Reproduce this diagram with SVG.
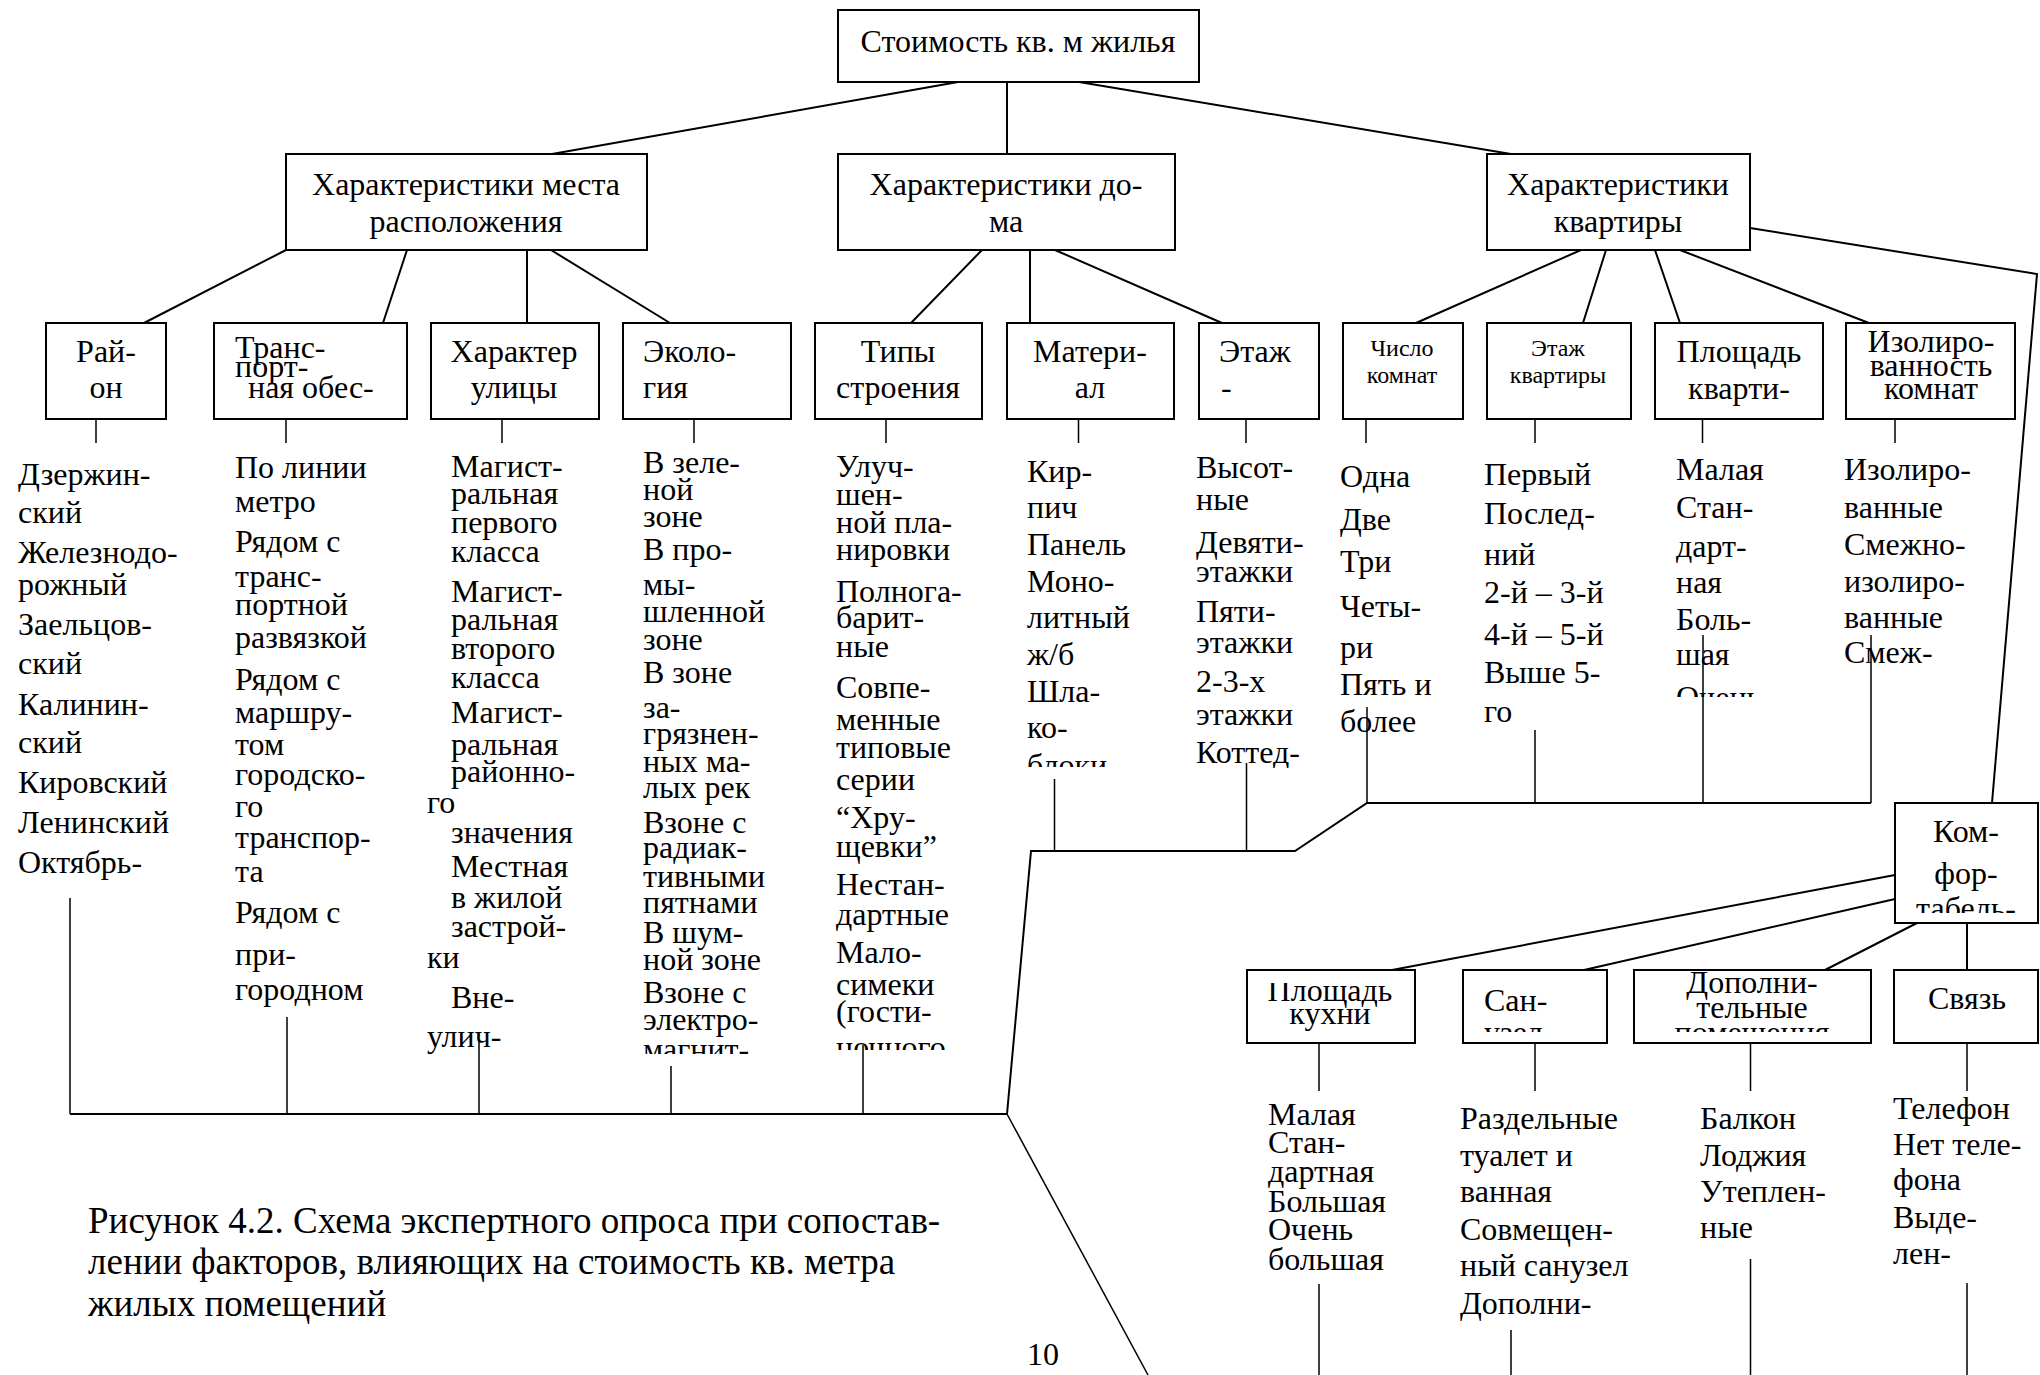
<svg xmlns="http://www.w3.org/2000/svg" width="2040" height="1375" viewBox="0 0 2040 1375">
<style>
  .box { fill: #fff; stroke: #000; stroke-width: 2; }
  .t { font-family: "Liberation Serif", "Times New Roman", "DejaVu Serif", serif; font-size: 32px; fill: #000; }
  .s { font-size: 24px; }
  .cap { font-size: 37px; }
  .m { text-anchor: middle; }
  .ln { stroke: #000; stroke-width: 2; fill: none; }
  .th { stroke: #000; stroke-width: 1.5; fill: none; }
</style>
<defs>
  <clipPath id="cl-transport"><rect x="214" y="334" width="193" height="85"/></clipPath>
  <clipPath id="cl-eco"><rect x="600" y="440" width="200" height="614"/></clipPath>
  <clipPath id="cl-types"><rect x="800" y="440" width="200" height="610"/></clipPath>
  <clipPath id="cl-mat"><rect x="1000" y="440" width="180" height="327"/></clipPath>
  <clipPath id="cl-floor"><rect x="1180" y="440" width="150" height="328"/></clipPath>
  <clipPath id="cl-flfloor"><rect x="1470" y="440" width="170" height="305"/></clipPath>
  <clipPath id="cl-flarea"><rect x="1660" y="440" width="170" height="257"/></clipPath>
  <clipPath id="cl-comfort"><rect x="1895" y="803" width="143" height="110"/></clipPath>
  <clipPath id="cl-kitchen"><rect x="1247" y="983" width="168" height="60"/></clipPath>
  <clipPath id="cl-bath"><rect x="1463" y="970" width="144" height="62"/></clipPath>
  <clipPath id="cl-extra"><rect x="1634" y="970" width="237" height="62"/></clipPath>
</defs>

<!-- connectors -->
<g id="connectors">
  <path class="ln" d="M958,82 L552,154 M1007,82 L1007,154 M1079,82 L1511,154"/>
  <path class="ln" d="M286,250 L144,323 M407,250 L383,323 M527,250 L527,323 M551,250 L670,323"/>
  <path class="ln" d="M982,250 L911,323 M1030,250 L1030,323 M1055,250 L1222,323"/>
  <path class="ln" d="M1581,250 L1416,323 M1606,250 L1583,323 M1655,250 L1680,323 M1680,250 L1869,323"/>
  <path class="ln" d="M1750,228 L2037,274 L1992,803"/>
  <!-- stubs under factor boxes -->
  <path class="th" d="M96,419 V443 M286,419 V443 M502,419 V443 M694,419 V443 M886,419 V443 M1078.5,419 V443 M1246,419 V443 M1366,419 V443 M1535,419 V443 M1702.5,419 V443 M1895,419 V443"/>
  <!-- left bus -->
  <path class="th" d="M70,898 V1114 M287,1017 V1114 M479,1040 V1114 M671,1066 V1114 M863,1045 V1114"/>
  <path class="ln" d="M70,1114 L1007,1114 L1031,851 L1295,851 L1367,803 L1871,803"/>
  <path class="th" d="M1054.5,779 V851 M1246.5,763 V851 M1367,707 V803 M1535,730 V803 M1703,635 V803 M1871,635 V803"/>
  <path class="th" d="M1007,1114 L1148,1375"/>
  <!-- comfort branch -->
  <path class="ln" d="M1895,875 L1392,970 M1895,899 L1584,970 M1917,923 L1825,970 M1967,923 L1967,970"/>
  <path class="th" d="M1319,1043 V1091 M1535,1043 V1091 M1750.5,1043 V1091 M1967,1043 V1091"/>
  <path class="th" d="M1319,1284 V1375 M1511,1330 V1375 M1750.5,1259 V1375 M1967,1283 V1375"/>
</g>

<!-- root -->
<g id="n-root">
  <rect class="box" x="838" y="10" width="361" height="72"/>
  <text class="t m" x="1018" y="52">Стоимость кв. м жилья</text>
</g>

<!-- second level -->
<g id="n-place">
  <rect class="box" x="286" y="154" width="361" height="96"/>
  <text class="t m" x="466" y="195">Характеристики места</text>
  <text class="t m" x="466" y="232">расположения</text>
</g>
<g id="n-house">
  <rect class="box" x="838" y="154" width="337" height="96"/>
  <text class="t m" x="1006" y="195">Характеристики до-</text>
  <text class="t m" x="1006" y="232">ма</text>
</g>
<g id="n-flat">
  <rect class="box" x="1487" y="154" width="263" height="96"/>
  <text class="t m" x="1618" y="195">Характеристики</text>
  <text class="t m" x="1618" y="232">квартиры</text>
</g>

<!-- factor boxes -->
<g id="n-district">
  <rect class="box" x="46" y="323" width="120" height="96"/>
  <text class="t m" x="106" y="362">Рай-</text>
  <text class="t m" x="106" y="398">он</text>
</g>
<g id="n-transport">
  <rect class="box" x="214" y="323" width="193" height="96"/>
  <g clip-path="url(#cl-transport)">
    <text class="t" x="235" y="358">Транс-</text>
    <text class="t" x="235" y="377">порт-</text>
    <text class="t" x="248" y="398">ная обес-</text>
  </g>
</g>
<g id="n-street">
  <rect class="box" x="431" y="323" width="168" height="96"/>
  <text class="t m" x="514" y="362">Характер</text>
  <text class="t m" x="514" y="398">улицы</text>
</g>
<g id="n-ecology">
  <rect class="box" x="623" y="323" width="168" height="96"/>
  <text class="t" x="643" y="362">Эколо-</text>
  <text class="t" x="643" y="398">гия</text>
</g>
<g id="n-types">
  <rect class="box" x="815" y="323" width="167" height="96"/>
  <text class="t m" x="898" y="362">Типы</text>
  <text class="t m" x="898" y="398">строения</text>
</g>
<g id="n-material">
  <rect class="box" x="1007" y="323" width="167" height="96"/>
  <text class="t m" x="1090" y="362">Матери-</text>
  <text class="t m" x="1090" y="398">ал</text>
</g>
<g id="n-floor">
  <rect class="box" x="1199" y="323" width="120" height="96"/>
  <text class="t" x="1219" y="362">Этаж</text>
  <text class="t" x="1221" y="398">-</text>
</g>
<g id="n-rooms">
  <rect class="box" x="1343" y="323" width="120" height="96"/>
  <text class="t s m" x="1402" y="356">Число</text>
  <text class="t s m" x="1402" y="383">комнат</text>
</g>
<g id="n-flatfloor">
  <rect class="box" x="1487" y="323" width="144" height="96"/>
  <text class="t s m" x="1558" y="356">Этаж</text>
  <text class="t s m" x="1558" y="383">квартиры</text>
</g>
<g id="n-flatarea">
  <rect class="box" x="1655" y="323" width="168" height="96"/>
  <text class="t m" x="1739" y="362">Площадь</text>
  <text class="t m" x="1739" y="399">кварти-</text>
</g>
<g id="n-isolation">
  <rect class="box" x="1846" y="323" width="169" height="96"/>
  <text class="t m" x="1931" y="352">Изолиро-</text>
  <text class="t m" x="1931" y="376">ванность</text>
  <text class="t m" x="1931" y="399">комнат</text>
</g>

<!-- option lists under factors -->
<g id="v-district" class="t">
  <text x="18" y="485">Дзержин-</text>
  <text x="18" y="523">ский</text>
  <text x="18" y="563">Железнодо-</text>
  <text x="18" y="595">рожный</text>
  <text x="18" y="635">Заельцов-</text>
  <text x="18" y="674">ский</text>
  <text x="18" y="715">Калинин-</text>
  <text x="18" y="753">ский</text>
  <text x="18" y="793">Кировский</text>
  <text x="18" y="833">Ленинский</text>
  <text x="18" y="873">Октябрь-</text>
</g>
<g id="v-transport" class="t">
  <text x="235" y="478">По линии</text>
  <text x="235" y="512">метро</text>
  <text x="235" y="552">Рядом с</text>
  <text x="235" y="587">транс-</text>
  <text x="235" y="615">портной</text>
  <text x="235" y="648">развязкой</text>
  <text x="235" y="690">Рядом с</text>
  <text x="235" y="723">маршру-</text>
  <text x="235" y="755">том</text>
  <text x="235" y="785">городско-</text>
  <text x="235" y="817">го</text>
  <text x="235" y="848">транспор-</text>
  <text x="235" y="882">та</text>
  <text x="235" y="923">Рядом с</text>
  <text x="235" y="965">при-</text>
  <text x="235" y="1000">городном</text>
</g>
<g id="v-street" class="t">
  <text x="451" y="477">Магист-</text>
  <text x="451" y="504">ральная</text>
  <text x="451" y="533">первого</text>
  <text x="451" y="562">класса</text>
  <text x="451" y="602">Магист-</text>
  <text x="451" y="630">ральная</text>
  <text x="451" y="659">второго</text>
  <text x="451" y="688">класса</text>
  <text x="451" y="723">Магист-</text>
  <text x="451" y="755">ральная</text>
  <text x="451" y="782">районно-</text>
  <text x="427" y="813">го</text>
  <text x="451" y="843">значения</text>
  <text x="451" y="877">Местная</text>
  <text x="451" y="908">в жилой</text>
  <text x="451" y="937">застрой-</text>
  <text x="427" y="968">ки</text>
  <text x="451" y="1008">Вне-</text>
  <text x="427" y="1047">улич-</text>
</g>
<g id="v-ecology" class="t" clip-path="url(#cl-eco)">
  <text x="643" y="473">В зеле-</text>
  <text x="643" y="500">ной</text>
  <text x="643" y="527">зоне</text>
  <text x="643" y="560">В про-</text>
  <text x="643" y="595">мы-</text>
  <text x="643" y="622">шленной</text>
  <text x="643" y="650">зоне</text>
  <text x="643" y="683">В зоне</text>
  <text x="643" y="718">за-</text>
  <text x="643" y="744">грязнен-</text>
  <text x="643" y="772">ных ма-</text>
  <text x="643" y="798">лых рек</text>
  <text x="643" y="833">Взоне с</text>
  <text x="643" y="858">радиак-</text>
  <text x="643" y="887">тивными</text>
  <text x="643" y="913">пятнами</text>
  <text x="643" y="943">В шум-</text>
  <text x="643" y="970">ной зоне</text>
  <text x="643" y="1003">Взоне с</text>
  <text x="643" y="1030">электро-</text>
  <text x="643" y="1060">магнит-</text>
</g>
<g id="v-types" class="t" clip-path="url(#cl-types)">
  <text x="836" y="477">Улуч-</text>
  <text x="836" y="505">шен-</text>
  <text x="836" y="533">ной пла-</text>
  <text x="836" y="560">нировки</text>
  <text x="836" y="602">Полнога-</text>
  <text x="836" y="628">барит-</text>
  <text x="836" y="657">ные</text>
  <text x="836" y="698">Совпе-</text>
  <text x="836" y="730">менные</text>
  <text x="836" y="758">типовые</text>
  <text x="836" y="790">серии</text>
  <text x="836" y="828">“Хру-</text>
  <text x="836" y="857">щевки”</text>
  <text x="836" y="895">Нестан-</text>
  <text x="836" y="925">дартные</text>
  <text x="836" y="963">Мало-</text>
  <text x="836" y="995">симеки</text>
  <text x="836" y="1022">(гости-</text>
  <text x="836" y="1058">ночного</text>
</g>
<g id="v-material" class="t" clip-path="url(#cl-mat)">
  <text x="1027" y="482">Кир-</text>
  <text x="1027" y="518">пич</text>
  <text x="1027" y="555">Панель</text>
  <text x="1027" y="592">Моно-</text>
  <text x="1027" y="628">литный</text>
  <text x="1027" y="665">ж/б</text>
  <text x="1027" y="702">Шла-</text>
  <text x="1027" y="738">ко-</text>
  <text x="1027" y="776">блоки</text>
</g>
<g id="v-floor" class="t" clip-path="url(#cl-floor)">
  <text x="1196" y="478">Высот-</text>
  <text x="1196" y="510">ные</text>
  <text x="1196" y="553">Девяти-</text>
  <text x="1196" y="582">этажки</text>
  <text x="1196" y="622">Пяти-</text>
  <text x="1196" y="653">этажки</text>
  <text x="1196" y="692">2-3-х</text>
  <text x="1196" y="725">этажки</text>
  <text x="1196" y="763">Коттед-</text>
</g>
<g id="v-rooms" class="t">
  <text x="1340" y="487">Одна</text>
  <text x="1340" y="530">Две</text>
  <text x="1340" y="572">Три</text>
  <text x="1340" y="617">Четы-</text>
  <text x="1340" y="658">ри</text>
  <text x="1340" y="695">Пять и</text>
  <text x="1340" y="732">более</text>
</g>
<g id="v-flatfloor" class="t" clip-path="url(#cl-flfloor)">
  <text x="1484" y="485">Первый</text>
  <text x="1484" y="524">Послед-</text>
  <text x="1484" y="565">ний</text>
  <text x="1484" y="603">2-й – 3-й</text>
  <text x="1484" y="645">4-й – 5-й</text>
  <text x="1484" y="683">Выше 5-</text>
  <text x="1484" y="722">го</text>
</g>
<g id="v-flatarea" class="t" clip-path="url(#cl-flarea)">
  <text x="1676" y="480">Малая</text>
  <text x="1676" y="518">Стан-</text>
  <text x="1676" y="557">дарт-</text>
  <text x="1676" y="593">ная</text>
  <text x="1676" y="630">Боль-</text>
  <text x="1676" y="665">шая</text>
  <text x="1676" y="708">Очень</text>
</g>
<g id="v-isolation" class="t">
  <text x="1844" y="480">Изолиро-</text>
  <text x="1844" y="518">ванные</text>
  <text x="1844" y="555">Смежно-</text>
  <text x="1844" y="592">изолиро-</text>
  <text x="1844" y="628">ванные</text>
  <text x="1844" y="663">Смеж-</text>
</g>

<!-- comfort sub-tree -->
<g id="n-comfort">
  <rect class="box" x="1895" y="803" width="143" height="120"/>
  <g clip-path="url(#cl-comfort)">
    <text class="t m" x="1966" y="842">Ком-</text>
    <text class="t m" x="1966" y="884">фор-</text>
    <text class="t m" x="1966" y="919">табель-</text>
  </g>
</g>
<g id="n-kitchen">
  <rect class="box" x="1247" y="970" width="168" height="73"/>
  <g clip-path="url(#cl-kitchen)">
    <text class="t m" x="1330" y="1001">Площадь</text>
    <text class="t m" x="1330" y="1024">кухни</text>
  </g>
</g>
<g id="n-bath">
  <rect class="box" x="1463" y="970" width="144" height="73"/>
  <g clip-path="url(#cl-bath)">
    <text class="t" x="1484" y="1011">Сан-</text>
    <text class="t" x="1484" y="1043">узел</text>
  </g>
</g>
<g id="n-extra">
  <rect class="box" x="1634" y="970" width="237" height="73"/>
  <g clip-path="url(#cl-extra)">
    <text class="t m" x="1752" y="993">Дополни-</text>
    <text class="t m" x="1752" y="1018">тельные</text>
    <text class="t m" x="1752" y="1043">помещения</text>
  </g>
</g>
<g id="n-comm">
  <rect class="box" x="1894" y="970" width="144" height="73"/>
  <text class="t m" x="1967" y="1009">Связь</text>
</g>

<g id="v-kitchen" class="t">
  <text x="1268" y="1125">Малая</text>
  <text x="1268" y="1153">Стан-</text>
  <text x="1268" y="1182">дартная</text>
  <text x="1268" y="1212">Большая</text>
  <text x="1268" y="1240">Очень</text>
  <text x="1268" y="1270">большая</text>
</g>
<g id="v-bath" class="t">
  <text x="1460" y="1129">Раздельные</text>
  <text x="1460" y="1166">туалет и</text>
  <text x="1460" y="1202">ванная</text>
  <text x="1460" y="1240">Совмещен-</text>
  <text x="1460" y="1276">ный санузел</text>
  <text x="1460" y="1314">Дополни-</text>
</g>
<g id="v-extra" class="t">
  <text x="1700" y="1129">Балкон</text>
  <text x="1700" y="1166">Лоджия</text>
  <text x="1700" y="1202">Утеплен-</text>
  <text x="1700" y="1238">ные</text>
</g>
<g id="v-comm" class="t">
  <text x="1893" y="1119">Телефон</text>
  <text x="1893" y="1155">Нет теле-</text>
  <text x="1893" y="1190">фона</text>
  <text x="1893" y="1228">Выде-</text>
  <text x="1893" y="1264">лен-</text>
</g>

<!-- caption and page number -->
<g id="caption" class="t cap">
  <text x="88" y="1233">Рисунок 4.2. Схема экспертного опроса при сопостав-</text>
  <text x="88" y="1274">лении факторов, влияющих на стоимость кв. метра</text>
  <text x="88" y="1316">жилых помещений</text>
</g>
<text class="t" x="1027" y="1365">10</text>
</svg>
